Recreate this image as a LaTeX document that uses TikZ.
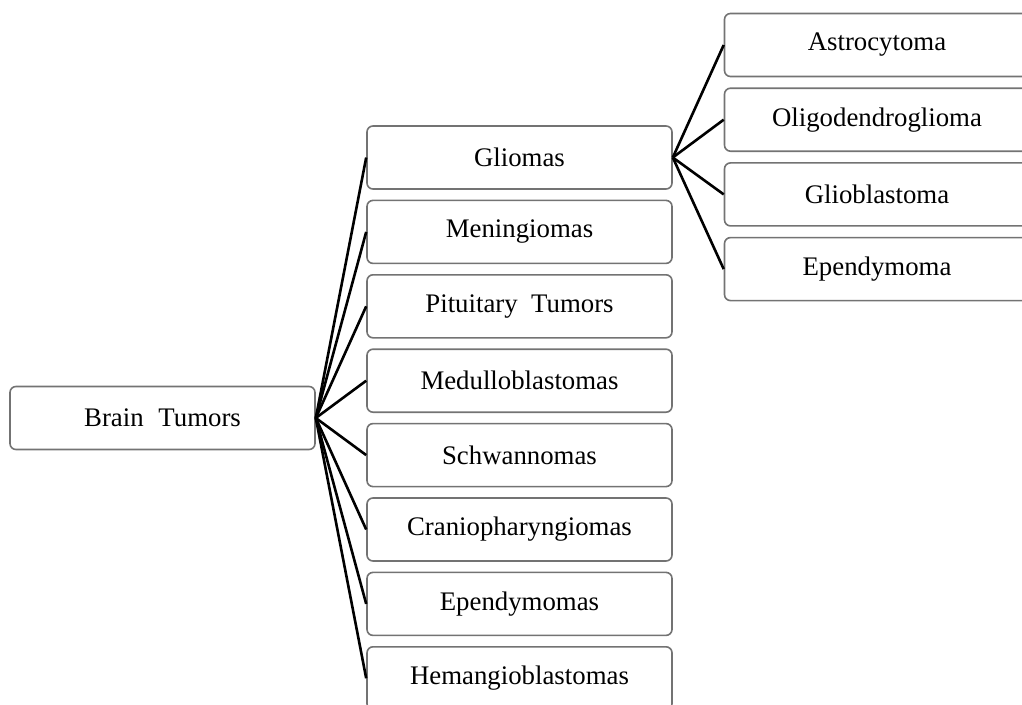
\documentclass[tikz,border=0pt]{standalone}
\usepackage{fontspec}
\setmainfont{Liberation Serif}
\begin{document}
\begin{tikzpicture}[x=1pt,y=-1pt,
  box/.style={draw=black!55, line width=1.6pt, rounded corners=6pt, fill=white,
    minimum width=305pt, minimum height=63pt, inner sep=0pt,
    font=\fontsize{26.8}{30}\selectfont},
  link/.style={draw=black, line width=2.6pt}]
\useasboundingbox (0,0) rectangle (1022,704);
\clip (0,0) rectangle (1022,704);
\node[box] (root) at (162.5,418) {Brain\hspace{0.55em}Tumors};
\foreach \n/\t [count=\i from 0] in {glio/Gliomas, meni/Meningiomas, pitu/Pituitary\hspace{0.5em}Tumors, medu/Medulloblastomas, schw/Schwannomas, cran/Craniopharyngiomas, epen/Ependymomas, hema/Hemangioblastomas}{
  \node[box] (\n) at (519.5,{157.5+74.4*\i}) {\t};
  \draw[link] (root.east) -- (\n.west);
}
\foreach \n/\t [count=\i from 0] in {astr/Astrocytoma, olig/Oligodendroglioma, glib/Glioblastoma, epmo/Ependymoma}{
  \node[box] (\n) at (877,{45+74.7*\i}) {\t};
  \draw[link] (glio.east) -- (\n.west);
}
\end{tikzpicture}
\end{document}
